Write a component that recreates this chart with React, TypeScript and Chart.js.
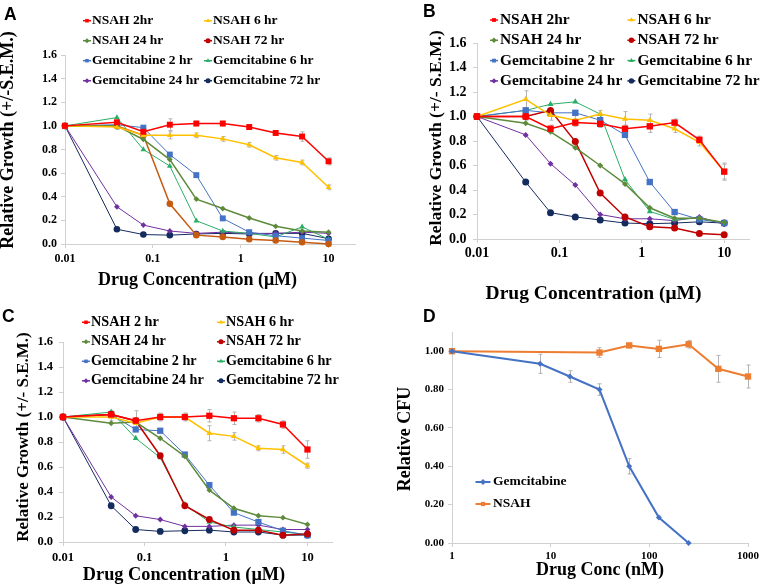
import React, { useEffect, useRef } from 'react';
import { Chart, registerables } from 'chart.js';
Chart.register(...registerables);

// ---------- shared axes ----------
const concUM = [0.01, 0.039, 0.078, 0.156, 0.3125, 0.625, 1.25, 2.5, 5, 10];
const xTickUM = [0.01, 0.1, 1, 10];
const yTickGrowth = [0, 0.2, 0.4, 0.6, 0.8, 1.0, 1.2, 1.4, 1.6];

// ---------- panel A ----------
const labelsA = ['NSAH 2hr', 'NSAH 6 hr', 'NSAH 24 hr', 'NSAH 72 hr', 'Gemcitabine 2 hr', 'Gemcitabine 6 hr', 'Gemcitabine 24 hr', 'Gemcitabine 72 hr'];
const aNsah2 = [1.0, 1.03, 0.95, 1.01, 1.02, 1.02, 0.99, 0.94, 0.91, 0.70];
const aNsah6 = [1.0, 0.99, 0.92, 0.92, 0.92, 0.89, 0.84, 0.73, 0.69, 0.48];
const aNsah24 = [1.0, 1.0, 0.885, 0.715, 0.38, 0.30, 0.22, 0.15, 0.11, 0.10];
const aNsah72 = [1.0, 1.0, 0.92, 0.34, 0.075, 0.06, 0.04, 0.03, 0.015, 0.0];
const aGem2 = [1.0, 1.01, 0.985, 0.757, 0.583, 0.217, 0.10, 0.07, 0.05, 0.03];
const aGem6 = [1.0, 1.07, 0.80, 0.66, 0.197, 0.11, 0.09, 0.06, 0.145, 0.04];
const aGem24 = [1.0, 0.315, 0.16, 0.11, 0.09, 0.10, 0.09, 0.09, 0.10, 0.09];
const aGem72 = [1.0, 0.125, 0.08, 0.075, 0.085, 0.09, 0.085, 0.09, 0.09, 0.045];
const aErrNsah2 = [0, 0.02, 0.03, 0.05, 0.02, 0.02, 0.02, 0.02, 0.04, 0.03];
const aErrNsah6 = [0, 0.02, 0.02, 0.03, 0.02, 0.02, 0.02, 0.02, 0.02, 0.02];

// ---------- panel B ----------
const labelsB = ['NSAH 2hr', 'NSAH 6 hr', 'NSAH 24 hr', 'NSAH 72 hr', 'Gemcitabine 2 hr', 'Gemcitabine 6 hr', 'Gemcitabine 24 hr', 'Gemcitabine 72 hr'];
const bNsah2 = [1.0, 1.0, 0.90, 0.95, 0.94, 0.90, 0.92, 0.95, 0.81, 0.55];
const bNsah6 = [1.0, 1.14, 1.01, 0.97, 1.02, 0.98, 0.97, 0.90, 0.79, 0.55];
const bNsah24 = [1.0, 0.945, 0.875, 0.745, 0.60, 0.45, 0.255, 0.17, 0.17, 0.135];
const bNsah72 = [1.0, 1.0, 1.05, 0.795, 0.375, 0.18, 0.10, 0.09, 0.045, 0.035];
const bGem2 = [1.0, 1.05, 1.03, 1.03, 0.97, 0.85, 0.465, 0.22, 0.16, 0.13];
const bGem6 = [1.0, 1.05, 1.10, 1.12, 1.02, 0.485, 0.225, 0.16, 0.17, 0.13];
const bGem24 = [1.0, 0.85, 0.615, 0.44, 0.20, 0.165, 0.165, 0.15, 0.18, 0.12];
const bGem72 = [1.0, 0.465, 0.215, 0.18, 0.155, 0.13, 0.125, 0.13, 0.14, 0.13];
const bErrNsah2 = [0, 0.03, 0.03, 0.03, 0.03, 0.03, 0.05, 0.03, 0.03, 0.07];
const bErrNsah6 = [0, 0.07, 0.04, 0.04, 0.03, 0.06, 0.05, 0.03, 0.03, 0.06];

// ---------- panel C ----------
const labelsC = ['NSAH 2 hr', 'NSAH 6 hr', 'NSAH 24 hr', 'NSAH 72 hr', 'Gemcitabine 2 hr', 'Gemcitabine 6 hr', 'Gemcitabine 24 hr', 'Gemcitabine 72 hr'];
const cNsah2 = [1.0, 1.02, 0.97, 1.0, 1.0, 1.01, 0.99, 0.99, 0.94, 0.74];
const cNsah6 = [1.0, 1.0, 0.95, 1.0, 1.0, 0.87, 0.845, 0.75, 0.74, 0.61];
const cNsah24 = [1.0, 0.95, 0.96, 0.83, 0.685, 0.415, 0.27, 0.21, 0.195, 0.14];
const cNsah72 = [1.0, 1.02, 0.97, 0.69, 0.29, 0.18, 0.095, 0.095, 0.055, 0.065];
const cGem2 = [1.0, 1.02, 0.90, 0.89, 0.70, 0.455, 0.235, 0.16, 0.09, 0.055];
const cGem6 = [1.0, 1.04, 0.83, 0.675, 0.30, 0.16, 0.12, 0.10, 0.08, 0.06];
const cGem24 = [1.0, 0.36, 0.21, 0.18, 0.125, 0.125, 0.135, 0.135, 0.10, 0.10];
const cGem72 = [1.0, 0.29, 0.10, 0.085, 0.09, 0.095, 0.08, 0.08, 0.055, 0.055];
const cErrNsah2 = [0, 0.03, 0.08, 0.03, 0.03, 0.05, 0.05, 0.03, 0.03, 0.07];
const cErrNsah6 = [0, 0.03, 0.03, 0.03, 0.03, 0.06, 0.03, 0.02, 0.03, 0.02];

// ---------- panel D ----------
const concGemNM = [1, 7.8125, 15.625, 31.25, 62.5, 125, 250];
const dGem = [1.0, 0.934, 0.868, 0.80, 0.40, 0.133, 0.0];
const dGemErr = [0, 0.05, 0.03, 0.03, 0.04, 0, 0];
const concNsahNM = [1, 31.25, 62.5, 125, 250, 500, 1000];
const dNsah = [1.0, 0.993, 1.03, 1.012, 1.036, 0.908, 0.868];
const dNsahErr = [0, 0.025, 0, 0.045, 0.02, 0.07, 0.06];
const xTickNM = [1, 10, 100, 1000];
const yTickCFU = [0, 0.2, 0.4, 0.6, 0.8, 1.0];
const labelsD = ['Gemcitabine', 'NSAH'];

// ---------- styles ----------
const SERIF = "'Liberation Serif', 'Times New Roman', serif";
const seriesColors = ['#ff0000', '#ffc000', '#5e8b3b', '#c00000', '#4472c4', '#2aae66', '#7030a0', '#142b5e'];
const seriesMarkers = ['rect', 'triangle', 'rectRot', 'circle', 'rect', 'triangle', 'rectRot', 'circle'];
const seriesWidths = [1.5, 1.5, 1.5, 1.5, 1, 1, 1, 1];

function markerPath(ctx: CanvasRenderingContext2D, style: string, x: number, y: number, r: number) {
  ctx.beginPath();
  if (style === 'rect') {
    const s = r * Math.SQRT1_2;
    ctx.rect(x - s, y - s, 2 * s, 2 * s);
  } else if (style === 'triangle') {
    ctx.moveTo(x, y - r);
    ctx.lineTo(x + r * 0.866, y + r * 0.5);
    ctx.lineTo(x - r * 0.866, y + r * 0.5);
    ctx.closePath();
  } else if (style === 'rectRot') {
    ctx.moveTo(x, y - r);
    ctx.lineTo(x + r, y);
    ctx.lineTo(x, y + r);
    ctx.lineTo(x - r, y);
    ctx.closePath();
  } else {
    ctx.arc(x, y, r, 0, Math.PI * 2);
  }
}

function makeLegendPlugin(o: any) {
  return {
    id: 'gridLegend',
    afterDraw(chart: any) {
      const ctx = chart.ctx as CanvasRenderingContext2D;
      ctx.save();
      ctx.font = `bold ${o.size}px ${SERIF}`;
      ctx.textBaseline = 'middle';
      ctx.textAlign = 'left';
      chart.data.datasets.forEach((ds: any, i: number) => {
        const col = i % o.cols;
        const row = Math.floor(i / o.cols);
        const cx = o.x + col * o.colW;
        const cy = o.y + row * o.rowH;
        const c = ds.legendColor || ds.borderColor;
        ctx.strokeStyle = c;
        ctx.lineWidth = o.lineW;
        ctx.beginPath();
        ctx.moveTo(cx - o.lineLen / 2, cy);
        ctx.lineTo(cx + o.lineLen / 2, cy);
        ctx.stroke();
        ctx.fillStyle = c;
        markerPath(ctx, ds.pointStyle, cx, cy, o.markR);
        ctx.fill();
        ctx.fillStyle = '#000';
        ctx.fillText(ds.label, cx + o.textGap, cy);
      });
      ctx.restore();
    },
  };
}

const errorBars = {
  id: 'errorBars',
  beforeDatasetsDraw(chart: any) {
    const ctx = chart.ctx as CanvasRenderingContext2D;
    const ys = chart.scales.y;
    ctx.save();
    ctx.strokeStyle = '#b3b3b3';
    ctx.lineWidth = 1;
    chart.data.datasets.forEach((ds: any, di: number) => {
      if (!ds.errors) return;
      const meta = chart.getDatasetMeta(di);
      ds.errors.forEach((e: number, i: number) => {
        if (!e) return;
        const el = meta.data[i];
        if (!el) return;
        const v = ds.data[i].y;
        const y1 = ys.getPixelForValue(v - e);
        const y2 = ys.getPixelForValue(v + e);
        const x = Math.round(el.x) + 0.5;
        ctx.beginPath();
        ctx.moveTo(x, y1);
        ctx.lineTo(x, y2);
        ctx.moveTo(x - 2, y1);
        ctx.lineTo(x + 2, y1);
        ctx.moveTo(x - 2, y2);
        ctx.lineTo(x + 2, y2);
        ctx.stroke();
      });
    });
    ctx.restore();
  },
};

function makeTitlesPlugin(t: any) {
  return {
    id: 'axisTitles',
    afterDraw(chart: any) {
      const ctx = chart.ctx as CanvasRenderingContext2D;
      ctx.save();
      ctx.fillStyle = '#000';
      ctx.textAlign = 'center';
      ctx.textBaseline = 'middle';
      ctx.font = `bold ${t.xSize}px ${SERIF}`;
      ctx.fillText(t.xText, t.xcx, t.xcy);
      ctx.translate(t.ycx, t.ycy);
      ctx.rotate(-Math.PI / 2);
      ctx.font = `bold ${t.ySize}px ${SERIF}`;
      ctx.fillText(t.yText, 0, 0);
      ctx.restore();
    },
  };
}

function axes(p: any) {
  const grid = { display: true, drawOnChartArea: false, drawTicks: true, tickLength: 4, color: '#d0d0d0' };
  const border = { display: true, color: '#d0d0d0', width: 1 };
  return {
    x: {
      type: 'logarithmic',
      min: p.xMin,
      max: p.xMax,
      afterBuildTicks: (s: any) => { s.ticks = p.xTicks.map((v: number) => ({ value: v })); },
      afterFit: (s: any) => { s.height = p.xHeight; },
      ticks: {
        autoSkip: false, maxRotation: 0, padding: p.xTickPad, color: '#000',
        font: { family: SERIF, weight: 'bold', size: p.tickSize },
        callback: (v: any) => String(v),
      },
      grid, border,
    },
    y: {
      type: 'linear',
      min: 0,
      max: p.yMax,
      afterBuildTicks: (s: any) => { s.ticks = p.yTicks.map((v: number) => ({ value: v })); },
      afterFit: (s: any) => { s.width = p.yWidth; },
      ticks: {
        padding: p.yTickPad, color: '#000',
        font: { family: SERIF, weight: 'bold', size: p.tickSize },
        callback: (v: any) => Number(v).toFixed(p.yDigits),
      },
      grid, border,
    },
  };
}

function growthConfig(p: any) {
  const datasets = p.series.map((vals: number[], i: number) => ({
    label: p.labels[i],
    data: concUM.map((x, k) => ({ x, y: vals[k] })),
    borderColor: i === 3 && p.nsah72Line ? p.nsah72Line : seriesColors[i],
    backgroundColor: i === 3 && p.nsah72Line ? p.nsah72Line : seriesColors[i],
    legendColor: seriesColors[i],
    borderWidth: seriesWidths[i],
    pointStyle: seriesMarkers[i],
    pointRadius: seriesMarkers[i] === 'rect' ? p.rectR : seriesMarkers[i] === 'rectRot' ? p.diaR : p.markR,
    pointBorderWidth: 0,
    tension: 0,
    clip: false,
    errors: p.errors[i],
  }));
  return {
    type: 'line',
    data: { datasets },
    options: {
      responsive: false,
      animation: false,
      events: [],
      layout: { padding: p.padding },
      plugins: { legend: { display: false }, tooltip: { enabled: false }, title: { display: false } },
      scales: axes({ ...p, xMin: 0.01, xMax: 20, xTicks: xTickUM, yMax: 1.6, yTicks: yTickGrowth, yDigits: 1 }),
    },
    plugins: [errorBars, makeLegendPlugin(p.legend), makeTitlesPlugin(p.titles)],
  };
}

function makeA() {
  return growthConfig({
    labels: labelsA,
    series: [aNsah2, aNsah6, aNsah24, aNsah72, aGem2, aGem6, aGem24, aGem72],
    errors: [aErrNsah2, aErrNsah6],
    nsah72Line: '#c55a11',
    padding: { top: 55, right: 26, left: 0, bottom: 0 },
    yWidth: 65, xHeight: 49, tickSize: 12, yTickPad: 4, xTickPad: 3.5,
    rectR: 4.2, markR: 3.3, diaR: 2.9,
    legend: { x: 87, y: 20.7, cols: 2, colW: 121, rowH: 20, size: 13.5, lineLen: 8, lineW: 1.5, markR: 2.5, textGap: 5 },
    titles: { xText: 'Drug Concentration (μM)', xcx: 197.5, xcy: 280.7, xSize: 18, yText: 'Relative Growth (+/-S.E.M.)', ycx: 8.5, ycy: 140, ySize: 18 },
  });
}

function makeB() {
  return growthConfig({
    labels: labelsB,
    series: [bNsah2, bNsah6, bNsah24, bNsah72, bGem2, bGem6, bGem24, bGem72],
    errors: [bErrNsah2, bErrNsah6],
    padding: { top: 43, right: 13, left: 0, bottom: 0 },
    yWidth: 96, xHeight: 66, tickSize: 14, yTickPad: 6.5, xTickPad: 2,
    rectR: 4.5, markR: 3.5, diaR: 3,
    legend: { x: 113, y: 20, cols: 2, colW: 137.4, rowH: 20.3, size: 15.4, lineLen: 8, lineW: 1.5, markR: 2.7, textGap: 6 },
    titles: { xText: 'Drug Concentration (μM)', xcx: 212.5, xcy: 294, xSize: 19.5, yText: 'Relative Growth (+/- S.E.M.)', ycx: 55.5, ycy: 138, ySize: 17.5 },
  });
}

function makeC() {
  return growthConfig({
    labels: labelsC,
    series: [cNsah2, cNsah6, cNsah24, cNsah72, cGem2, cGem6, cGem24, cGem72],
    errors: [cErrNsah2, cErrNsah6],
    padding: { top: 42, right: 49, left: 0, bottom: 0 },
    yWidth: 63, xHeight: 45, tickSize: 12.5, yTickPad: 6, xTickPad: 4,
    rectR: 4.4, markR: 3.4, diaR: 2.9,
    legend: { x: 86, y: 22.3, cols: 2, colW: 135, rowH: 19.5, size: 14.2, lineLen: 8, lineW: 1.5, markR: 2.5, textGap: 5 },
    titles: { xText: 'Drug Concentration (μM)', xcx: 184, xcy: 275.7, xSize: 18.3, yText: 'Relative Growth (+/- S.E.M.)', ycx: 24, ycy: 137, ySize: 17 },
  });
}

function makeD() {
  const datasets = [
    {
      label: labelsD[0],
      data: concGemNM.map((x, k) => ({ x, y: dGem[k] })),
      borderColor: '#4472c4', backgroundColor: '#4472c4', borderWidth: 2,
      pointStyle: 'rectRot', pointRadius: 3, pointBorderWidth: 0, tension: 0, clip: false,
      errors: dGemErr,
    },
    {
      label: labelsD[1],
      data: concNsahNM.map((x, k) => ({ x, y: dNsah[k] })),
      borderColor: '#ed7d31', backgroundColor: '#ed7d31', borderWidth: 2,
      pointStyle: 'rect', pointRadius: 4.5, pointBorderWidth: 0, tension: 0, clip: false,
      errors: dNsahErr,
    },
  ];
  return {
    type: 'line',
    data: { datasets },
    options: {
      responsive: false,
      animation: false,
      events: [],
      layout: { padding: { top: 32, right: 13, left: 0, bottom: 0 } },
      plugins: { legend: { display: false }, tooltip: { enabled: false }, title: { display: false } },
      scales: axes({ xMin: 1, xMax: 1000, xTicks: xTickNM, yMax: 1.1, yTicks: yTickCFU, yDigits: 2, xHeight: 44, yWidth: 71, tickSize: 11, yTickPad: 4, xTickPad: 3 }),
    },
    plugins: [
      errorBars,
      makeLegendPlugin({ x: 102, y: 182, cols: 1, colW: 0, rowH: 22, size: 13.5, lineLen: 15, lineW: 2, markR: 3, textGap: 10 }),
      makeTitlesPlugin({ xText: 'Drug Conc (nM)', xcx: 219, xcy: 270, xSize: 18, yText: 'Relative CFU', ycx: 24, ycy: 139, ySize: 18 }),
    ],
  };
}

function ChartCanvas({ make, left, top, width, height }: { make: () => any; left: number; top: number; width: number; height: number }) {
  const ref = useRef<HTMLCanvasElement>(null);
  useEffect(() => {
    const chart = new Chart(ref.current as HTMLCanvasElement, make());
    return () => chart.destroy();
  }, []);
  return <canvas ref={ref} width={width} height={height} style={{ position: 'absolute', left, top, width, height }} />;
}

const letterStyle: React.CSSProperties = {
  position: 'absolute', fontFamily: "'Liberation Sans', Arial, sans-serif", fontWeight: 'bold', fontSize: 17.5, lineHeight: '17.5px', color: '#000',
};

export default function App() {
  return (
    <div style={{ position: 'absolute', left: 0, top: 0, width: 762, height: 587, background: '#fff', overflow: 'hidden' }}>
      <ChartCanvas make={makeA} left={0} top={0} width={381} height={293} />
      <ChartCanvas make={makeB} left={381} top={0} width={381} height={305} />
      <ChartCanvas make={makeC} left={0} top={300} width={381} height={287} />
      <ChartCanvas make={makeD} left={381} top={300} width={381} height={287} />
      <div style={{ ...letterStyle, left: 4, top: 6 }}>A</div>
      <div style={{ ...letterStyle, left: 423, top: 3 }}>B</div>
      <div style={{ ...letterStyle, left: 2, top: 308 }}>C</div>
      <div style={{ ...letterStyle, left: 423, top: 308 }}>D</div>
    </div>
  );
}
